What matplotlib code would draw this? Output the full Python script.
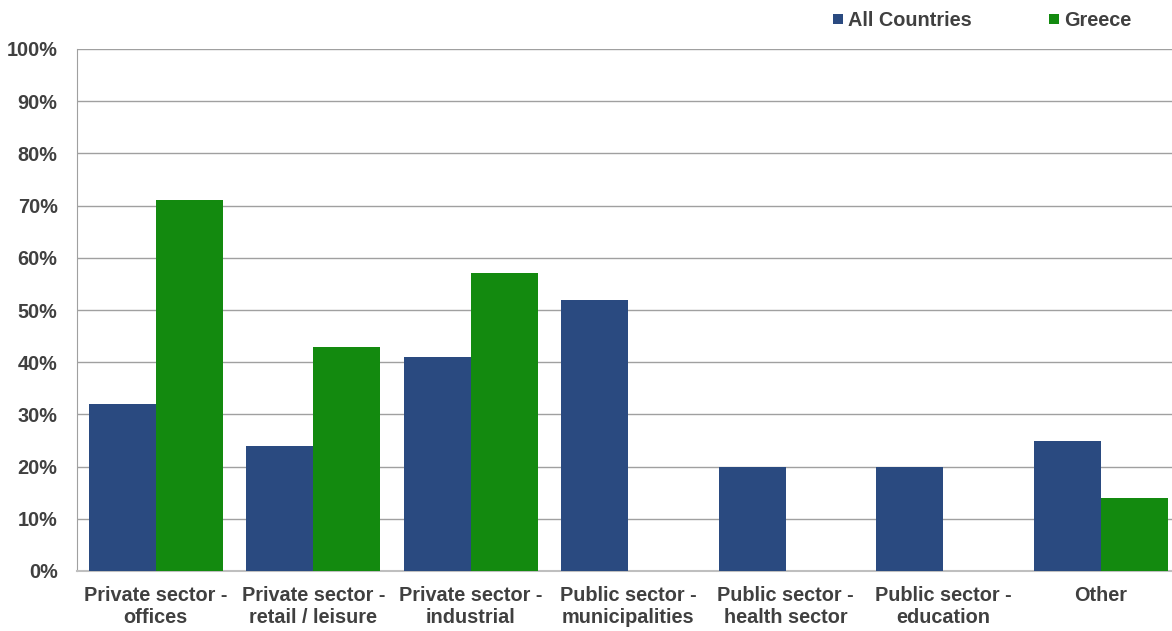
import matplotlib
matplotlib.use("Agg")
import matplotlib.pyplot as plt
from matplotlib.patches import Rectangle
from matplotlib.ticker import FuncFormatter

categories = [
    "Private sector -\noffices",
    "Private sector -\nretail / leisure",
    "Private sector -\nindustrial",
    "Public sector -\nmunicipalities",
    "Public sector -\nhealth sector",
    "Public sector -\neducation",
    "Other",
]
all_countries = [32, 24, 41, 52, 20, 20, 25]
greece = [71, 43, 57, 0, 0, 0, 14]
series_names = ["All Countries", "Greece"]

BLUE = "#2A4A80"
GREEN = "#138A0F"
TEXT = "#404040"
FS = 14.3

plt.rcParams["font.family"] = ["Liberation Sans", "DejaVu Sans"]
plt.rcParams["font.weight"] = "bold"

W, H = 1172, 631
fig = plt.figure(figsize=(W / 100, H / 100), dpi=100)
left, right, top, bottom = 77, 1179.5, 49, 571
ax = fig.add_axes([left / W, 1 - bottom / H, (right - left) / W, (bottom - top) / H])

x = list(range(len(categories)))
bw = 0.425
ax.bar([i - bw / 2 for i in x], all_countries, width=bw, color=BLUE, zorder=3)
ax.bar([i + bw / 2 for i in x], greece, width=bw, color=GREEN, zorder=3)

ax.set_xlim(-0.5, len(categories) - 0.5)
ax.set_ylim(0, 100)
ax.set_yticks(range(0, 101, 10))
ax.yaxis.set_major_formatter(FuncFormatter(lambda v, p: f"{int(v)}%"))
ax.grid(axis="y", color="#A0A0A0", linewidth=1.0, zorder=0)
ax.set_axisbelow(True)

ax.set_xticks(x)
ax.set_xticklabels(categories, fontsize=FS, color=TEXT, fontweight="bold", linespacing=1.2)
for lbl in ax.get_yticklabels():
    lbl.set_fontsize(FS)
    lbl.set_color(TEXT)
    lbl.set_fontweight("bold")

ax.tick_params(axis="x", length=0, pad=11)
ax.tick_params(axis="y", length=0, pad=14)
for s in ("top", "right"):
    ax.spines[s].set_visible(False)
ax.spines["left"].set_color("#A0A0A0")
ax.spines["bottom"].set_color("#BFBFBF")
ax.spines["bottom"].set_linewidth(1.5)

# legend row at the top right (positions in figure pixels)
legend_items = [(833, BLUE, series_names[0]), (1049, GREEN, series_names[1])]
ly = H - 19
for px, col, name in legend_items:
    fig.patches.append(Rectangle((px / W, (ly - 5) / H), 10 / W, 10 / H,
                                 transform=fig.transFigure, facecolor=col,
                                 edgecolor="none"))
    fig.text((px + 15) / W, ly / H, name, ha="left", va="center_baseline",
             fontsize=FS, color=TEXT, fontweight="bold")

fig.savefig("out.png", dpi=100)
